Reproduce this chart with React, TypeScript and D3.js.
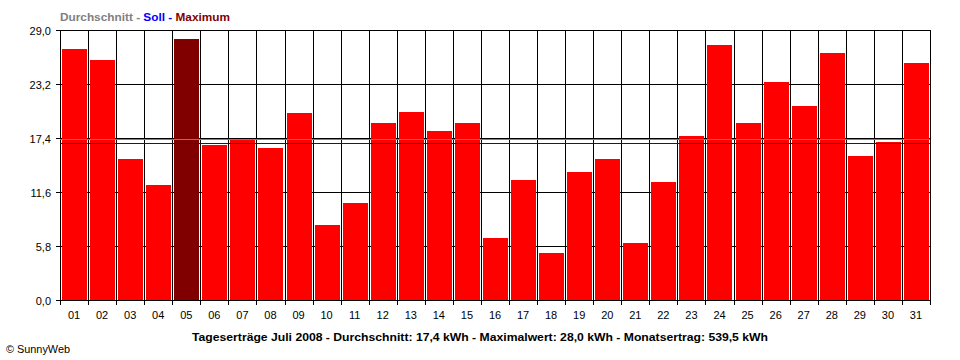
import React from 'react';
import * as d3 from 'd3';

const days = ['01','02','03','04','05','06','07','08','09','10','11','12','13','14','15','16','17','18','19','20','21','22','23','24','25','26','27','28','29','30','31'];
const dailyYield = [27.0, 25.8, 15.1, 12.3, 28.0, 16.7, 17.3, 16.3, 20.1, 8.1, 10.4, 19.0, 20.2, 18.1, 19.0, 6.7, 12.9, 5.0, 13.8, 15.1, 6.1, 12.7, 17.6, 27.4, 19.0, 23.4, 20.8, 26.5, 15.5, 17.0, 25.5];
const yTicks = [0, 5.8, 11.6, 17.4, 23.2, 29.0];
const average = 17.4;
const target = 16.9;
const maxValue = 28.0;
const legendParts = [
  { text: 'Durchschnitt', color: '#808080' },
  { text: ' - ', color: '#808080' },
  { text: 'Soll', color: '#0000FF' },
  { text: ' - ', color: '#0000FF' },
  { text: 'Maximum', color: '#800000' },
];
const bottomTitle = 'Tageserträge Juli 2008 - Durchschnitt: 17,4 kWh - Maximalwert: 28,0 kWh - Monatsertrag: 539,5 kWh';
const copyright = '© SunnyWeb';

const W = 960, H = 360;
const M = { left: 60, right: 30, top: 30, bottom: 60 };

export default function App() {
  const x = d3.scaleBand<string>().domain(days).range([M.left, W - M.right]).paddingInner(0).paddingOuter(0);
  const y = d3.scaleLinear().domain([0, 29]).range([H - M.bottom, M.top]);
  const fmt = (v: number) => v.toFixed(1).replace('.', ',');
  const px = (v: number) => Math.round(v) + 0.5;
  const boundaries = days.map(d => x(d)!).concat([W - M.right]);
  const font = '"Liberation Sans", Arial, sans-serif';

  return (
    <svg width={W} height={H} style={{ position: 'absolute', left: 0, top: 0, background: '#fff' }} fontFamily={font}>
      <rect x={0} y={0} width={W} height={H} fill="#fff" />
      {/* legend */}
      <text x={M.left} y={21} fontSize={11} fontWeight="bold" textLength={170} lengthAdjust="spacingAndGlyphs">
        {legendParts.map((p, i) => <tspan key={i} fill={p.color}>{p.text}</tspan>)}
      </text>
      <g shapeRendering="crispEdges">
        {/* horizontal grid */}
        {yTicks.map(t => (
          <g key={'h' + t}>
            <line x1={M.left - 4} x2={W - M.right} y1={px(y(t))} y2={px(y(t))} stroke="#000" strokeWidth={1} />
            <text x={51} y={Math.round(y(t)) + 4.5} textAnchor="end" fontSize={11} fill="#000" shapeRendering="auto">{fmt(t)}</text>
          </g>
        ))}
        {/* vertical grid */}
        {boundaries.map((b, i) => (
          <line key={'v' + i} x1={px(b)} x2={px(b)} y1={y(29)} y2={y(0) + 5} stroke="#000" strokeWidth={1} />
        ))}
        {/* bars */}
        {days.map((d, i) => {
          const v = dailyYield[i];
          const top = Math.round(y(v));
          return (
            <rect key={'b' + d} x={Math.round(x(d)!) + 2} width={Math.round(x.bandwidth()) - 3}
              y={top} height={Math.round(y(0)) - top}
              fill={v === maxValue ? '#800000' : '#FF0000'} />
          );
        })}
        {/* average & target lines */}
        <line x1={M.left} x2={W - M.right} y1={px(y(average)) + 1} y2={px(y(average)) + 1} stroke="#808080" strokeWidth={1} />
        <line x1={M.left} x2={W - M.right} y1={px(y(target))} y2={px(y(target))} stroke="#0000FF" strokeWidth={1} />
      </g>
      {/* x labels */}
      {days.map(d => (
        <text key={'x' + d} x={x(d)! + x.bandwidth() / 2} y={319} textAnchor="middle" fontSize={11} fill="#000">{d}</text>
      ))}
      <text x={W / 2} y={341} textAnchor="middle" fontSize={11} fontWeight="bold" fill="#000" textLength={576} lengthAdjust="spacingAndGlyphs">{bottomTitle}</text>
      <text x={6} y={353} fontSize={11} fill="#000" textLength={64} lengthAdjust="spacingAndGlyphs">{copyright}</text>
    </svg>
  );
}
